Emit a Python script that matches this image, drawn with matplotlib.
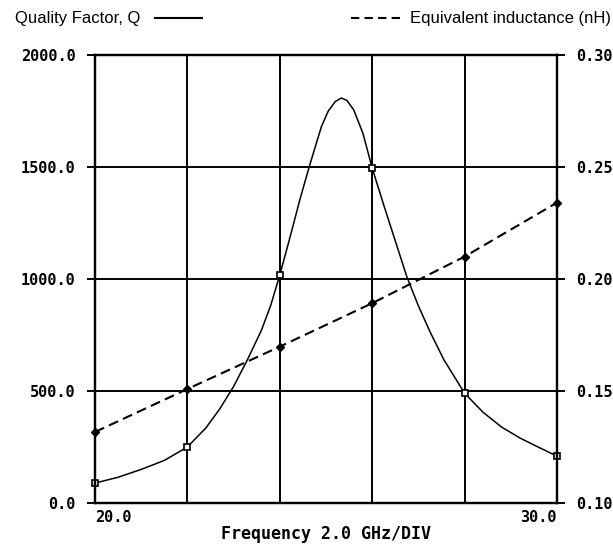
import matplotlib
matplotlib.use("Agg")
from matplotlib import pyplot as plt
from matplotlib.lines import Line2D

# Quality factor curve
q_freq = [20.0, 20.5, 21.0, 21.5, 22.0, 22.4, 22.7, 23.0, 23.3, 23.6, 23.8,
          24.0, 24.2, 24.45, 24.65, 24.9, 25.05, 25.2, 25.33, 25.45, 25.6,
          25.8, 26.0, 26.25, 26.5, 26.75, 27.0, 27.25, 27.55, 28.0, 28.4,
          28.8, 29.2, 29.5, 30.0]
q_vals = [89, 115, 150, 190, 250, 335, 420, 520, 640, 770, 880,
          1018, 1170, 1366, 1510, 1680, 1750, 1792, 1808, 1798, 1755,
          1650, 1495, 1330, 1170, 1010, 880, 765, 640, 490, 405,
          339, 290, 259, 209]

# marker points
mark_freq = [20, 22, 24, 26, 28, 30]
q_marks = [89, 250, 1018, 1495, 490, 209]
l_marks = [0.1317, 0.1509, 0.1698, 0.1892, 0.2100, 0.2341]

q_ticks = [0, 500, 1000, 1500, 2000]
q_labels = ["0.0", "500.0", "1000.0", "1500.0", "2000.0"]
l_ticks = [0.10, 0.15, 0.20, 0.25, 0.30]
l_labels = ["0.10", "0.15", "0.20", "0.25", "0.30"]
x_ticks = [20, 22, 24, 26, 28, 30]
x_labels = ["20.0", "", "", "", "", "30.0"]

W, H = 613, 544
fig = plt.figure(figsize=(W / 100, H / 100), dpi=100)
ax = fig.add_axes([95 / W, 1 - 503 / H, (557 - 95) / W, (503 - 55) / H])
ax2 = ax.twinx()

mono = dict(family="DejaVu Sans Mono", weight="bold", size=11)

ax.plot(q_freq, q_vals, color="black", lw=1.1)
ax.plot(mark_freq, q_marks, ls="none", marker="s", ms=4.5, mfc="white",
        mec="black", mew=1.2, clip_on=False)
ax2.plot(mark_freq, l_marks, color="black", lw=1.5, ls=(0, (4.8, 2.6)),
         marker="D", ms=4, mfc="black", mec="black", clip_on=False)

ax.set_xlim(20, 30)
ax.set_ylim(0, 2000)
ax2.set_ylim(0.1, 0.3)

ax.set_xticks(x_ticks)
ax.set_xticklabels(x_labels, fontdict=mono)
tl = ax.get_xticklabels()
tl[0].set_ha("left")
tl[-1].set_ha("right")
ax.tick_params(axis="x", length=0, pad=5)

ax.set_yticks(q_ticks)
ax.set_yticklabels(q_labels, fontdict=mono)
ax.tick_params(axis="y", direction="out", length=6, width=1.4, pad=8)
ax2.set_yticks(l_ticks)
ax2.set_yticklabels(l_labels, fontdict=mono)
ax2.tick_params(axis="y", direction="out", length=6, width=1.4, pad=8)

ax.grid(True, color="black", lw=1.4)
for a in (ax, ax2):
    for s in a.spines.values():
        s.set_linewidth(1.6)

ax.set_xlabel("Frequency 2.0 GHz/DIV", fontdict=dict(mono, size=12), labelpad=0)

# legend at the top
fig.text(15 / W, 1 - 18 / H, "Quality Factor, Q", family="Liberation Sans",
         size=12, va="center", ha="left")
fig.add_artist(Line2D([155 / W, 202 / W], [1 - 18 / H, 1 - 18 / H],
                      color="black", lw=1.5))
fig.add_artist(Line2D([351 / W, 400 / W], [1 - 18 / H, 1 - 18 / H],
                      color="black", lw=1.5, ls=(0, (4, 2.5))))
fig.text(410 / W, 1 - 18 / H, "Equivalent inductance (nH)",
         family="Liberation Sans", size=12, va="center", ha="left")

fig.savefig("out.png", dpi=100)
